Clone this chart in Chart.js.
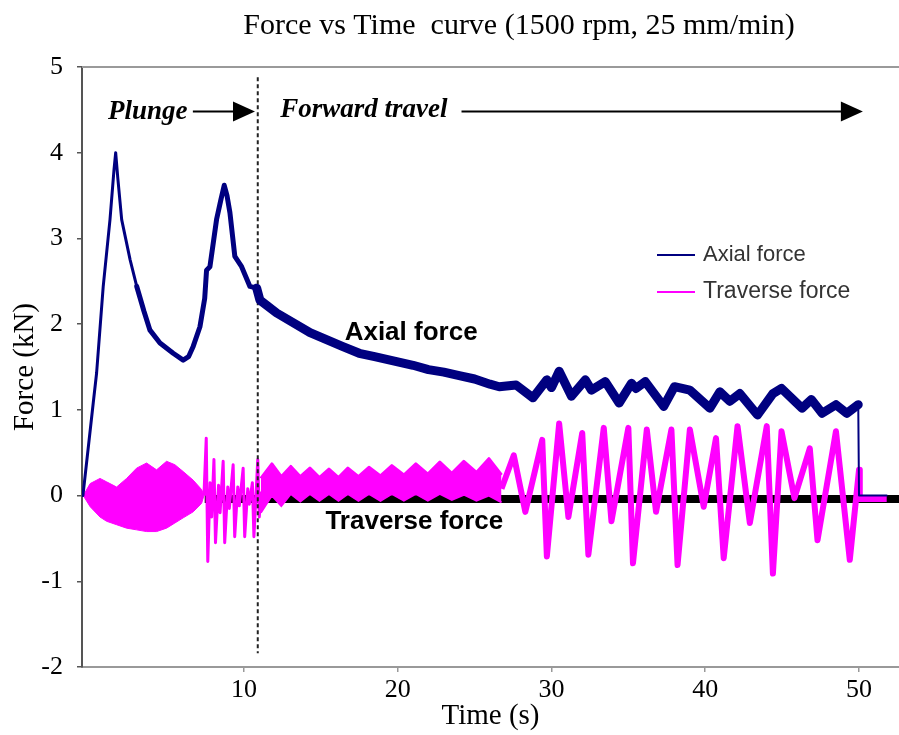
<!DOCTYPE html>
<html>
<head>
<meta charset="utf-8">
<script src="https://cdn.jsdelivr.net/npm/chart.js@4.4.1/dist/chart.umd.min.js"></script>
<style>
  html, body { margin: 0; padding: 0; background: #fff; }
</style>
</head>
<body>
<canvas id="forceChart" width="899" height="735"></canvas>
<script>
// time axis (s) and force (kN)
const axialTime = [-0.47, 0.2, 0.42, 0.85, 1.29, 1.55, 1.66, 1.8, 2.05, 2.6,
  3.03, 3.5, 3.89, 4.54, 5.4, 6.05, 6.4, 6.7, 7.14, 7.45,
  7.57, 7.79, 8.22, 8.5, 8.72, 8.9, 9.09, 9.41, 9.85, 10.39,
  10.83, 11.04, 12.13, 14.3, 16.4, 17.5, 18.5, 20, 21, 22,
  23, 24, 25, 26, 26.6, 27.7, 28.8, 29.7, 30.0, 30.5,
  31.3, 32.2, 32.6, 33.5, 34.4, 35.2, 35.5, 36.1, 37.3, 38.0,
  39.0, 40.3, 40.95, 41.6, 42.25, 43.4, 44.4, 44.96, 46.3, 46.9,
  47.6, 48.5, 49.2, 49.95, 50.0, 51.8];
const axialForce = [0, 1.08, 1.43, 2.44, 3.22, 3.8, 4.0, 3.7, 3.22, 2.75,
  2.44, 2.15, 1.93, 1.78, 1.66, 1.58, 1.62, 1.74, 1.97, 2.3,
  2.63, 2.67, 3.22, 3.45, 3.62, 3.5, 3.30, 2.79, 2.67, 2.44,
  2.42, 2.28, 2.13, 1.90, 1.74, 1.66, 1.62, 1.56, 1.52, 1.47,
  1.44, 1.40, 1.36, 1.30, 1.27, 1.29, 1.14, 1.35, 1.26, 1.45,
  1.16, 1.35, 1.23, 1.33, 1.08, 1.31, 1.25, 1.33, 1.04, 1.27,
  1.23, 1.02, 1.21, 1.10, 1.19, 0.94, 1.19, 1.25, 1.02, 1.12,
  0.96, 1.06, 0.96, 1.06, 0, 0];

// dense traverse oscillation during plunge (envelope)
const plungeBandTime = [-0.45, 0, 0.64, 1.07, 1.72, 2.37, 3.02, 3.67, 4.32, 4.97, 5.51, 6.05, 6.7, 7.25, 7.4];
const plungeBandUpper = [0, 0.14, 0.2, 0.16, 0.1, 0.2, 0.32, 0.38, 0.30, 0.40, 0.36, 0.28, 0.18, 0.07, 0];
const plungeBandLower = [0, -0.13, -0.25, -0.30, -0.34, -0.38, -0.40, -0.42, -0.42, -0.38, -0.32, -0.26, -0.19, -0.09, 0];

// wavy traverse band in early forward travel (envelope)
const travelBandTime = [11.1, 11.82, 12.43, 13.05, 13.67, 14.29, 14.91, 15.53, 16.15, 16.76, 17.45, 18.13,
  18.88, 19.62, 20.4, 21.18, 21.96, 22.74, 23.52, 24.3, 25.12, 25.93, 26.75];
const travelBandUpper = [0.2, 0.37, 0.22, 0.34, 0.22, 0.32, 0.21, 0.31, 0.21, 0.32, 0.22, 0.33,
  0.23, 0.35, 0.24, 0.37, 0.25, 0.39, 0.26, 0.40, 0.27, 0.43, 0.24];
const travelBandLower = [-0.2, 0.0, -0.12, 0.02, -0.07, 0.02, -0.06, 0.02, -0.06, 0.02, -0.06, 0.02,
  -0.06, 0.02, -0.06, 0.02, -0.06, 0.02, -0.05, 0.01, -0.06, 0.0, -0.08];

// large traverse swings
const traverseTime = [7.4, 7.55, 7.65, 7.8, 7.9, 8.05, 8.15, 8.35, 8.45, 8.65,
  8.75, 8.95, 9.05, 9.3, 9.4, 9.6, 9.7, 9.95, 10.05, 10.25,
  10.35, 10.55, 10.65, 10.9, 11.0, 11.1, 11.2,
  26.75, 27.55, 28.3, 29.4, 29.7, 30.5, 31.1, 32.0, 32.4, 33.4,
  33.9, 35.0, 35.3, 36.2, 36.8, 37.8, 38.2, 39.0, 39.9, 40.7,
  41.2, 42.1, 42.9, 44.0, 44.4, 44.96, 45.8, 46.8, 47.3, 48.5,
  49.4, 50.0, 50.05, 51.8];
const traverseForce = [0, 0.67, -0.77, 0.15, -0.25, 0.42, -0.55, 0.12, -0.2, 0.40,
  -0.55, 0.1, -0.15, 0.36, -0.48, 0.1, -0.12, 0.32, -0.48, 0.08,
  -0.1, 0.15, -0.48, 0.42, -0.25, 0.05, null,
  0.08, 0.47, -0.19, 0.65, -0.71, 0.84, -0.25, 0.73, -0.69, 0.79,
  -0.30, 0.79, -0.79, 0.77, -0.19, 0.77, -0.81, 0.77, -0.13, 0.67,
  -0.73, 0.81, -0.32, 0.81, -0.91, 0.75, -0.03, 0.55, -0.52, 0.75,
  -0.75, 0.3, -0.04, -0.04];

const baselineTime = [7.45, 52.6];
const baselineForce = [-0.04, -0.04];
const boundaryTime = [10.9, 10.9];
const boundaryForce = [4.88, -1.84];

const xTicks = [10, 20, 30, 40, 50];
const yTicks = [-2, -1, 0, 1, 2, 3, 4, 5];

const serif = '"Liberation Serif", "Times New Roman", serif';
const sans = '"Liberation Sans", Arial, sans-serif';
const navy = '#000080';
const magenta = '#ff00ff';

const pts = (xs, ys) => xs.map((t, i) => ({ x: t, y: ys[i] }));

function drawArrow(ctx, x0, x1, yy) {
    ctx.beginPath();
    ctx.moveTo(x0, yy);
    ctx.lineTo(x1 - 18, yy);
    ctx.stroke();
    ctx.beginPath();
    ctx.moveTo(x1, yy);
    ctx.lineTo(x1 - 22, yy - 10);
    ctx.lineTo(x1 - 22, yy + 10);
    ctx.closePath();
    ctx.fill();
}

const annotations = {
    id: 'annotations',
    afterDraw(chart) {
        const { ctx, chartArea, scales: { x, y } } = chart;
        ctx.save();
        // top frame line
        ctx.strokeStyle = '#9a9a9a';
        ctx.lineWidth = 2;
        ctx.beginPath();
        ctx.moveTo(chartArea.left, chartArea.top);
        ctx.lineTo(chartArea.right, chartArea.top);
        ctx.stroke();

        ctx.fillStyle = '#000';
        ctx.textBaseline = 'middle';
        ctx.textAlign = 'center';
        ctx.font = '30px ' + serif;
        ctx.fillText('Force vs Time  curve (1500 rpm, 25 mm/min)', 519, 26);

        // stage labels and arrows
        const arrowY = y.getPixelForValue(4.48);
        ctx.textAlign = 'left';
        ctx.font = 'italic bold 27px ' + serif;
        ctx.fillText('Plunge', x.getPixelForValue(1.16), arrowY);
        ctx.fillText('Forward travel', x.getPixelForValue(12.36), arrowY - 2);
        ctx.strokeStyle = '#000';
        ctx.lineWidth = 2;
        drawArrow(ctx, x.getPixelForValue(6.68), x.getPixelForValue(10.72), arrowY);
        drawArrow(ctx, x.getPixelForValue(24.15), x.getPixelForValue(50.25), arrowY);

        // curve labels
        ctx.font = 'bold 26px ' + sans;
        ctx.fillText('Axial force', x.getPixelForValue(16.55), y.getPixelForValue(1.9));
        ctx.fillText('Traverse force', x.getPixelForValue(15.3), y.getPixelForValue(-0.31));

        // legend
        ctx.fillStyle = '#333';
        [['Axial force', navy, 255, 22], ['Traverse force', magenta, 292, 23]].forEach(([label, color, ly, size]) => {
            ctx.strokeStyle = color;
            ctx.lineWidth = 2;
            ctx.beginPath();
            ctx.moveTo(657, ly);
            ctx.lineTo(695, ly);
            ctx.stroke();
            ctx.font = size + 'px ' + sans;
            ctx.fillText(label, 703, ly);
        });
        ctx.restore();
    }
};

const axialWidth = (ctx) => {
    const t = ctx.p0.parsed.x;
    if (t < 3) return 3;
    if (t < 10.4) return 5;
    if (t < 49.9) return 9;
    return 2;
};

new Chart(document.getElementById('forceChart'), {
    type: 'line',
    data: {
        datasets: [
            {
                label: 'Axial force',
                data: pts(axialTime, axialForce),
                borderColor: navy,
                borderWidth: 3,
                borderCapStyle: 'round',
                borderJoinStyle: 'round',
                segment: { borderWidth: axialWidth },
                pointRadius: 0,
                fill: false
            },
            {
                label: 'Stage boundary',
                data: pts(boundaryTime, boundaryForce),
                borderColor: '#222',
                borderWidth: 2,
                borderDash: [4, 3],
                pointRadius: 0,
                fill: false
            },
            {
                label: 'Traverse force',
                data: pts(traverseTime, traverseForce),
                borderColor: magenta,
                borderWidth: 3,
                borderJoinStyle: 'round',
                segment: { borderWidth: (ctx) => (ctx.p0.parsed.x < 12 ? 3 : 6) },
                spanGaps: false,
                pointRadius: 0,
                fill: false
            },
            {
                label: 'Traverse band 1',
                data: pts(plungeBandTime, plungeBandUpper),
                borderColor: magenta,
                backgroundColor: magenta,
                borderWidth: 1,
                pointRadius: 0,
                fill: '+1'
            },
            {
                label: 'Traverse band 1 low',
                data: pts(plungeBandTime, plungeBandLower),
                borderColor: magenta,
                borderWidth: 1,
                pointRadius: 0,
                fill: false
            },
            {
                label: 'Traverse band 2',
                data: pts(travelBandTime, travelBandUpper),
                borderColor: magenta,
                backgroundColor: magenta,
                borderWidth: 3,
                borderJoinStyle: 'round',
                pointRadius: 0,
                fill: '+1'
            },
            {
                label: 'Traverse band 2 low',
                data: pts(travelBandTime, travelBandLower),
                borderColor: magenta,
                borderWidth: 2,
                pointRadius: 0,
                fill: false
            },
            {
                label: 'Baseline',
                data: pts(baselineTime, baselineForce),
                borderColor: '#000',
                borderWidth: 8,
                pointRadius: 0,
                fill: false
            }
        ]
    },
    options: {
        responsive: false,
        animation: false,
        layout: { padding: { top: 67, left: 0, right: 0, bottom: 0 } },
        plugins: {
            legend: { display: false },
            tooltip: { enabled: false }
        },
        scales: {
            x: {
                type: 'linear',
                min: -0.53,
                max: 52.6,
                afterBuildTicks: (s) => { s.ticks = xTicks.map(v => ({ value: v })); },
                afterFit: (s) => { s.height = 68; },
                grid: { drawOnChartArea: false, tickLength: 5, color: '#999', lineWidth: 1.5 },
                border: { color: '#999', width: 2 },
                ticks: { font: { family: serif, size: 26 }, color: '#000', padding: 3, maxRotation: 0, autoSkip: false },
                title: {
                    display: true,
                    text: 'Time (s)',
                    font: { family: serif, size: 29 },
                    color: '#000',
                    padding: { top: 0, bottom: 1 }
                }
            },
            y: {
                min: -2,
                max: 5,
                afterBuildTicks: (s) => { s.ticks = yTicks.map(v => ({ value: v })); },
                afterFit: (s) => { s.width = 82; },
                grid: { drawOnChartArea: false, tickLength: 5, color: '#555', lineWidth: 1.5 },
                border: { color: '#555', width: 2 },
                ticks: { font: { family: serif, size: 26 }, color: '#000', padding: 14 },
                title: {
                    display: true,
                    text: 'Force (kN)',
                    font: { family: serif, size: 29 },
                    color: '#000',
                    padding: { top: 8, bottom: 0 }
                }
            }
        }
    },
    plugins: [annotations]
});
</script>
</body>
</html>
